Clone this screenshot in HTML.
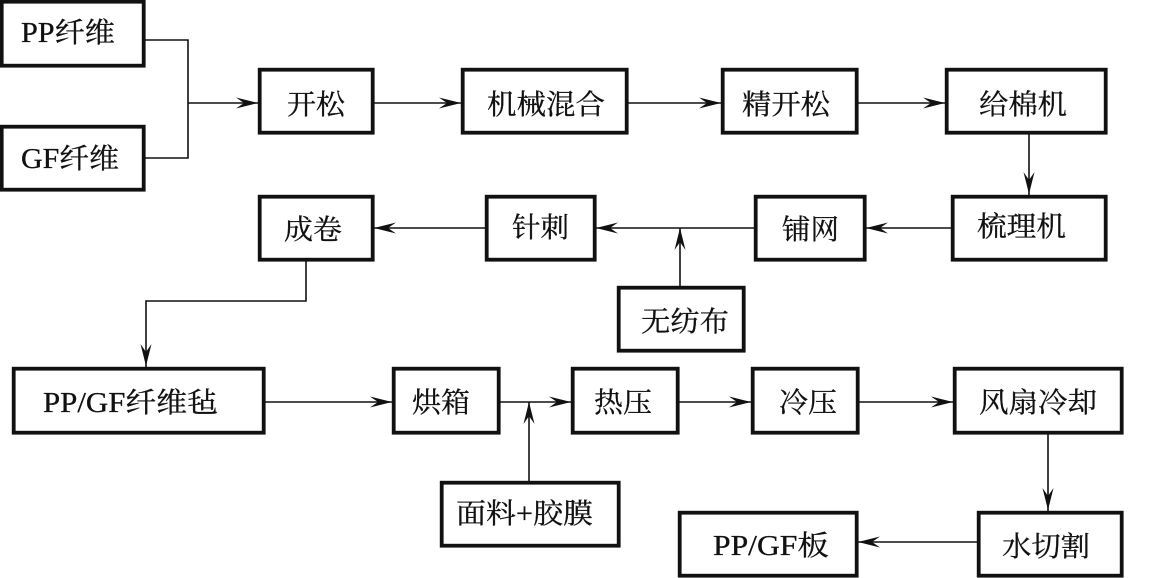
<!DOCTYPE html>
<html lang="zh">
<head>
<meta charset="utf-8">
<style>
html,body{margin:0;padding:0;background:#fff;width:1149px;height:578px;overflow:hidden}
svg{display:block}
rect{fill:#fff;stroke:#111;stroke-width:3.8}
path.l{fill:none;stroke:#111;stroke-width:1.6}
path.a{fill:#111;stroke:none}
text{font-family:"Liberation Serif","Noto Serif CJK SC",serif;font-size:28px;fill:#111;stroke:#111;stroke-width:.3}
</style>
</head>
<body>
<svg width="1149" height="578" viewBox="0 0 1149 578" xmlns="http://www.w3.org/2000/svg">
<defs>
<path id="ar" class="a" d="M0 0 L-22 -5.5 L-14 0 L-22 5.5 Z"/>
</defs>
<!-- connectors -->
<path class="l" d="M145 40H188V158H145M188 103H258"/>
<path class="l" d="M374 103H461M628 103H721M858 103H945"/>
<path class="l" d="M1029 134V195"/>
<path class="l" d="M951 228H866M754 228H596M485 228H374"/>
<path class="l" d="M680 286V228"/>
<path class="l" d="M306 261V301H146V367"/>
<path class="l" d="M265 402H392M500 402H571M679 402H751M859 402H953"/>
<path class="l" d="M529 481V402"/>
<path class="l" d="M1048 434V511"/>
<path class="l" d="M977 542H858"/>
<!-- arrowheads -->
<use href="#ar" transform="translate(258 103)"/>
<use href="#ar" transform="translate(461 103)"/>
<use href="#ar" transform="translate(721 103)"/>
<use href="#ar" transform="translate(945 103)"/>
<use href="#ar" transform="translate(1029 194) rotate(90)"/>
<use href="#ar" transform="translate(866 228) rotate(180)"/>
<use href="#ar" transform="translate(596 228) rotate(180)"/>
<use href="#ar" transform="translate(374 228) rotate(180)"/>
<use href="#ar" transform="translate(680 228) rotate(-90)"/>
<use href="#ar" transform="translate(146 366) rotate(90)"/>
<use href="#ar" transform="translate(392 402)"/>
<use href="#ar" transform="translate(571 402)"/>
<use href="#ar" transform="translate(751 402)"/>
<use href="#ar" transform="translate(953 402)"/>
<use href="#ar" transform="translate(529 402) rotate(-90)"/>
<use href="#ar" transform="translate(1048 510) rotate(90)"/>
<use href="#ar" transform="translate(858 542) rotate(180)"/>
<!-- boxes -->
<rect x="1.7" y="1.7" width="142" height="64"/>
<rect x="1.7" y="126.7" width="142" height="63"/>
<rect x="259.7" y="69.7" width="113" height="63"/>
<rect x="462.7" y="69.7" width="164" height="63"/>
<rect x="722.7" y="69.7" width="134" height="63"/>
<rect x="946.7" y="69.7" width="159" height="63"/>
<rect x="952.7" y="196.7" width="153" height="63"/>
<rect x="755.7" y="196.7" width="109" height="63"/>
<rect x="486.7" y="196.7" width="108" height="63"/>
<rect x="259.7" y="196.7" width="113" height="63"/>
<rect x="618.7" y="287.7" width="125" height="63"/>
<rect x="13.7" y="368.7" width="250" height="64"/>
<rect x="393.7" y="368.7" width="105" height="64"/>
<rect x="572.7" y="368.7" width="105" height="64"/>
<rect x="752.7" y="368.7" width="105" height="64"/>
<rect x="954.7" y="368.7" width="167" height="64"/>
<rect x="441.7" y="482.7" width="177" height="63"/>
<rect x="978.7" y="512.7" width="143" height="63"/>
<rect x="679.7" y="512.7" width="177" height="63"/>
<!-- labels -->
<text x="21" y="42" textLength="94" lengthAdjust="spacingAndGlyphs">PP纤维</text>
<text x="21" y="168" textLength="98" lengthAdjust="spacingAndGlyphs">GF纤维</text>
<text x="287" y="114" textLength="58" lengthAdjust="spacingAndGlyphs">开松</text>
<text x="487" y="114" textLength="118" lengthAdjust="spacingAndGlyphs">机械混合</text>
<text x="742" y="114" textLength="88" lengthAdjust="spacingAndGlyphs">精开松</text>
<text x="979" y="114" textLength="88" lengthAdjust="spacingAndGlyphs">给棉机</text>
<text x="977" y="236" textLength="89" lengthAdjust="spacingAndGlyphs">梳理机</text>
<text x="782" y="239" textLength="57" lengthAdjust="spacingAndGlyphs">铺网</text>
<text x="512" y="237" textLength="57" lengthAdjust="spacingAndGlyphs">针刺</text>
<text x="284" y="239" textLength="58" lengthAdjust="spacingAndGlyphs">成卷</text>
<text x="641" y="331" textLength="88" lengthAdjust="spacingAndGlyphs">无纺布</text>
<text x="43" y="412" textLength="175" lengthAdjust="spacingAndGlyphs">PP/GF纤维毡</text>
<text x="412" y="412" textLength="58" lengthAdjust="spacingAndGlyphs">烘箱</text>
<text x="594" y="412" textLength="58" lengthAdjust="spacingAndGlyphs">热压</text>
<text x="779" y="412" textLength="58" lengthAdjust="spacingAndGlyphs">冷压</text>
<text x="979" y="412" textLength="118" lengthAdjust="spacingAndGlyphs">风扇冷却</text>
<text x="456" y="523" textLength="137" lengthAdjust="spacingAndGlyphs">面料+胶膜</text>
<text x="1002" y="556" textLength="88" lengthAdjust="spacingAndGlyphs">水切割</text>
<text x="713" y="555" textLength="116" lengthAdjust="spacingAndGlyphs">PP/GF板</text>
</svg>
</body>
</html>
